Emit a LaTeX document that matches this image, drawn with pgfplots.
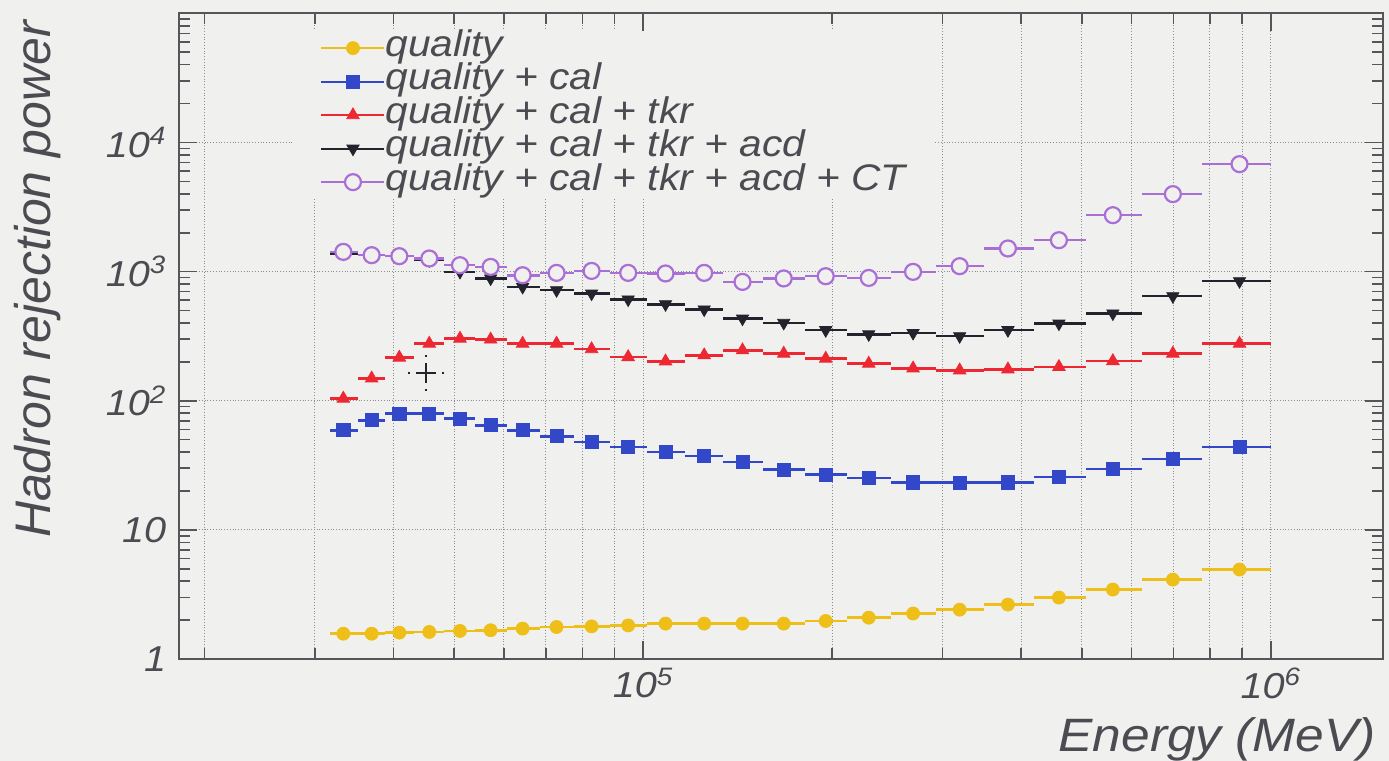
\documentclass[border=0pt]{standalone}
\usepackage{fontspec}
\setmainfont{Liberation Sans}
\newfontfamily\wsf{Liberation Sans}[FakeStretch=1.1]
\usepackage{pgfplots}
\pgfplotsset{compat=1.18}
\usepackage{pgfplotstable}

\definecolor{bgc}{RGB}{240,240,238}
\definecolor{cq}{RGB}{238,190,25}
\definecolor{cc}{RGB}{50,72,200}
\definecolor{ct}{RGB}{238,40,50}
\definecolor{ca}{RGB}{35,35,45}
\definecolor{cp}{RGB}{170,110,215}
\definecolor{txt}{RGB}{75,75,82}
\definecolor{axc}{RGB}{85,85,90}
\definecolor{gridc}{RGB}{140,140,148}

\newcommand\tickfont{\wsf\itshape\fontsize{18}{18}\selectfont}
\newcommand\legfont{\wsf\itshape\fontsize{18.5}{18.5}\selectfont}

\pgfplotstableread{
x xlo xhi q c t a p
33290 31700 35070 1.57 59.1 104 1380 1421
36940 35070 38860 1.57 70.6 149 1340 1340
40880 38860 43140 1.60 79.6 216 1316 1316
45630 43140 48250 1.62 79.6 277 1225 1263
51070 48250 54060 1.65 72.8 303 995 1121
57150 54060 60670 1.67 64.6 298 885 1087
64270 60670 68470 1.72 59.1 277 761 937
72790 68470 77570 1.77 53.1 277 718 977
82770 77570 88510 1.79 48.0 251 676 1012
94650 88510 101370 1.82 43.9 218 608 977
108560 101370 116540 1.88 40.1 202 559 967
125100 116540 134200 1.88 37.2 225 509 977
143990 134200 155410 1.88 33.6 246 433 832
167500 155410 180930 1.88 29.3 232 401 885
195400 180930 211460 1.97 26.8 212 352 921
228800 211460 248000 2.09 25.2 194 327 893
269200 248000 293000 2.25 23.3 178 335 995
319400 293000 348800 2.41 23.2 172 316 1101
381300 348800 419000 2.64 23.3 175 352 1510
459700 419000 506900 2.99 25.7 183 396 1750
560300 506900 624600 3.45 29.5 203 474 2733
698300 624600 778500 4.12 35.4 232 645 3980
891700 778500 1000000 4.93 43.9 277 843 6790
}\data

\pgfplotsset{
  ebar/.style={only marks, forget plot,
    error bars/x dir=both, error bars/x explicit, error bars/error mark=none,
    error bars/error bar style={line width=1.3pt, solid}},
}

\begin{document}
\begin{tikzpicture}
\path[fill=bgc, use as bounding box] (-89.65pt,-51pt) rectangle (604.85pt,329.5pt);
\begin{axis}[
  at={(0,0)}, anchor=south west,
  scale only axis, width=601.7pt, height=322.85pt,
  xmode=log, ymode=log,
  xmin=1.824e4, xmax=1.508e6, ymin=1, ymax=1e5,
  xtick={1e5,1e6},
  xticklabels={\mbox{\tickfont 10\textsuperscript{5}},\mbox{\tickfont 10\textsuperscript{6}}},
  ytick={1,10,100,1000,10000},
  yticklabels={\mbox{\tickfont 1},\mbox{\tickfont 10},\mbox{\tickfont 10\textsuperscript{2}},\mbox{\tickfont 10\textsuperscript{3}},\mbox{\tickfont 10\textsuperscript{4}}},
  minor xtick={2e4,3e4,4e4,5e4,6e4,7e4,8e4,9e4,2e5,3e5,4e5,5e5,6e5,7e5,8e5,9e5},
  minor ytick={2,3,4,5,6,7,8,9,20,30,40,50,60,70,80,90,200,300,400,500,600,700,800,900,2000,3000,4000,5000,6000,7000,8000,9000,20000,30000,40000,50000,60000,70000,80000,90000},
  xtick pos=both, ytick pos=both, tick align=inside,
  major tick length=9pt, minor tick length=5.5pt,
  every tick/.style={axc, line width=0.8pt},
  axis line style={axc, line width=1pt},
  xmajorgrids, xminorgrids, ymajorgrids, yminorgrids=false,
  major grid style={gridc, densely dotted, line width=0.5pt},
  minor grid style={gridc, densely dotted, line width=0.5pt},
  xticklabel style={txt, yshift=-1pt},
  yticklabel style={txt, xshift=-3pt},
  xlabel={Energy (MeV)},
  xlabel style={at={(axis description cs:1.0003,-0.144)}, anchor=base east,
    font=\wsf\itshape\fontsize{23.4}{23.4}\selectfont, text=txt},
  ylabel={Hadron rejection power},
  ylabel style={at={(axis description cs:-0.1174,0.999)}, anchor=east, rotate=0,
    font=\itshape\fontsize{25}{25}\selectfont, text=txt},
  legend image code/.code={\draw[mark repeat=2, mark phase=2, #1] plot coordinates {(0pt,0pt) (15.75pt,0pt) (31.5pt,0pt)};},
  legend cell align=left,
  legend style={at={(axis description cs:0.0937,0.9726)}, anchor=north west,
    draw=none, fill=bgc, inner xsep=14pt, inner ysep=0pt, row sep=0pt,
    font=\legfont, text=txt,
    nodes={inner sep=0pt, text height=12.5pt, text depth=4.25pt},
    /tikz/every even column/.append style={column sep=9.5pt}},
]
% legend images
\addlegendimage{cq, line width=1pt, mark=*, mark size=3.25pt, mark options={solid, line width=0.4pt}}
\addlegendentry{quality}
\addlegendimage{cc, line width=1pt, mark=square*, mark size=3.3pt, mark options={solid, line width=0.4pt}}
\addlegendentry{quality + cal}
\addlegendimage{ct, line width=1pt, mark=triangle*, mark size=3.6pt, mark options={solid, line width=0.4pt}}
\addlegendentry{quality + cal + tkr}
\addlegendimage{ca, line width=1pt, mark=triangle*, mark size=3.5pt, mark options={solid, rotate=180, line width=0.4pt}}
\addlegendentry{quality + cal + tkr + acd}
\addlegendimage{cp, line width=1pt, mark=*, mark size=4pt, mark options={solid, fill=bgc, line width=1.1pt}}
\addlegendentry{quality + cal + tkr + acd + CT}

% stray dash-dot error cross
\addplot[ca, forget plot, mark=none, error bars/x dir=both, error bars/y dir=both, error bars/x explicit, error bars/y explicit, error bars/error mark=none, error bars/error bar style={dash pattern=on 5pt off 3pt on 1.2pt off 3pt, line width=1pt}]
  coordinates {(45080,164) += (3560,65) -= (3340,45)};

\addplot[cq, ebar, mark=*, mark size=3.25pt, mark options={solid, line width=0.4pt}]
  table[x=x, y=q, x error plus expr=\thisrow{xhi}-\thisrow{x}, x error minus expr=\thisrow{x}-\thisrow{xlo}] {\data};
\addplot[cc, ebar, mark=square*, mark size=3.3pt, mark options={solid, line width=0.4pt}]
  table[x=x, y=c, x error plus expr=\thisrow{xhi}-\thisrow{x}, x error minus expr=\thisrow{x}-\thisrow{xlo}] {\data};
\addplot[ct, ebar, mark=triangle*, mark size=3.6pt, mark options={solid, line width=0.4pt}]
  table[x=x, y=t, x error plus expr=\thisrow{xhi}-\thisrow{x}, x error minus expr=\thisrow{x}-\thisrow{xlo}] {\data};
\addplot[ca, ebar, mark=triangle*, mark size=3.5pt, mark options={solid, rotate=180, line width=0.4pt}]
  table[x=x, y=a, x error plus expr=\thisrow{xhi}-\thisrow{x}, x error minus expr=\thisrow{x}-\thisrow{xlo}] {\data};
\addplot[cp, ebar, mark=*, mark size=4pt, mark options={solid, fill=bgc, line width=1.1pt}]
  table[x=x, y=p, x error plus expr=\thisrow{xhi}-\thisrow{x}, x error minus expr=\thisrow{x}-\thisrow{xlo}] {\data};
\end{axis}
\end{tikzpicture}
\end{document}
